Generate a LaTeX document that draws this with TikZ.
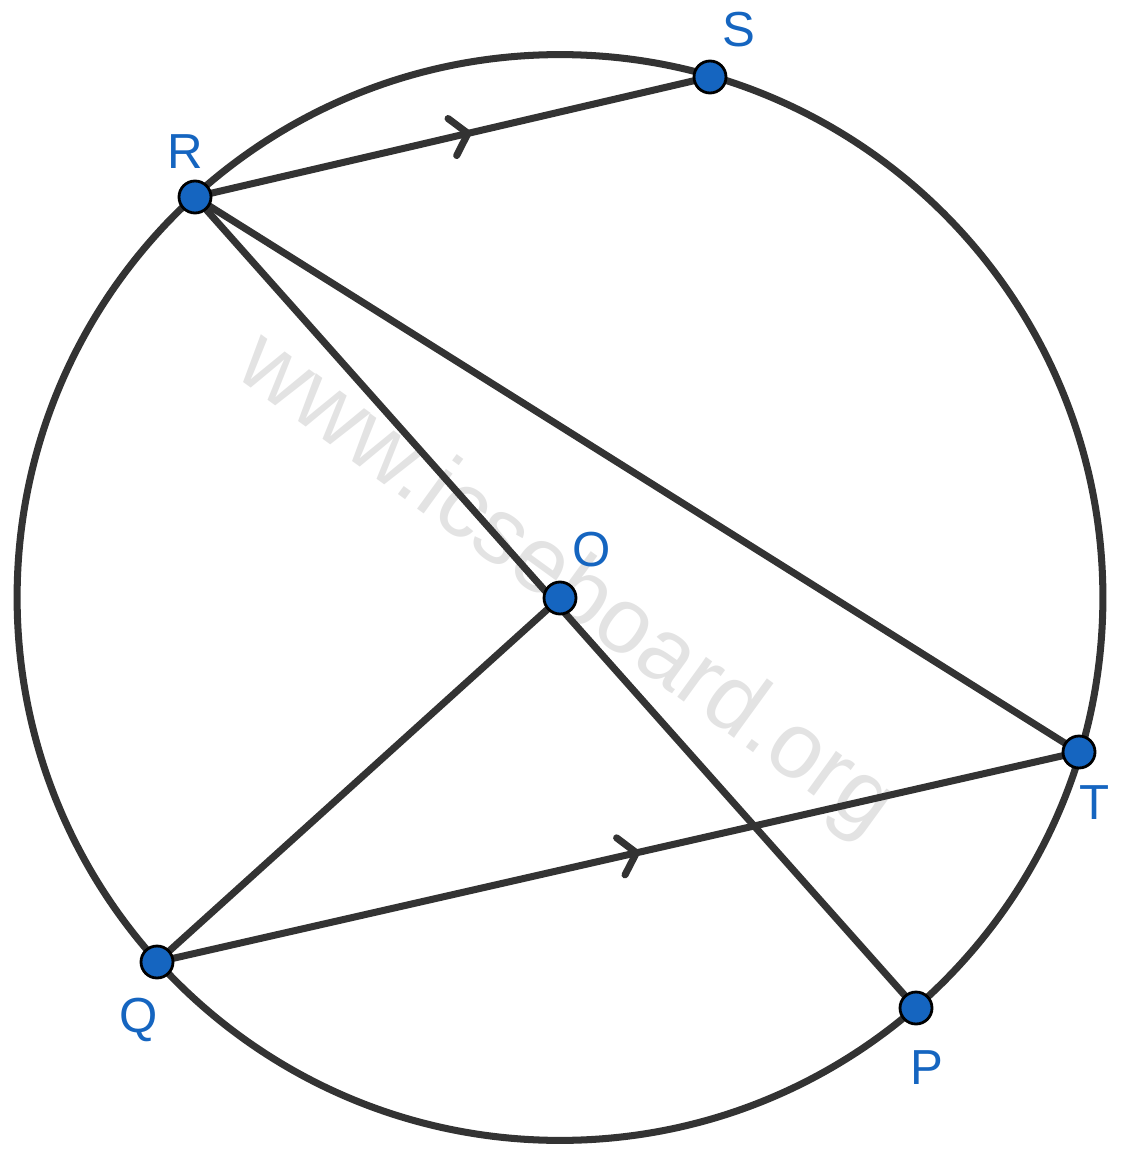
\documentclass[tikz,border=0pt]{standalone}
\usepackage{fontspec}
\setmainfont{Liberation Sans}
\usetikzlibrary{decorations.markings}
\definecolor{ln}{HTML}{333333}
\definecolor{pt}{HTML}{1565C0}
\definecolor{wm}{HTML}{E3E3E3}
\begin{document}
\begin{tikzpicture}[x=0.02cm,y=-0.02cm,
  seg/.style={draw=ln,line width=4pt},
  dot/.style={circle,draw=black,fill=pt,line width=1.6pt,minimum size=0.64cm,inner sep=0pt},
  lbl/.style={text=pt,font=\fontsize{28}{28}\selectfont},
  chev/.style={postaction={decorate},decoration={markings,mark=at position #1 with {\draw[ln,line width=4pt,line cap=round,line join=miter] (-0.32cm,0.38cm) -- (0,0) -- (-0.32cm,-0.38cm);}}}
]
\useasboundingbox (0,0) rectangle (1132,1165);
% watermark
\node[text=wm,rotate=-36,font=\fontsize{53}{53}\selectfont] (wmk) at (565,586) {www.icseboard.org};
% coordinates
\coordinate (Oc) at (560,597.5);
\coordinate (R) at (195,197);
\coordinate (S) at (710,77);
\coordinate (T) at (1079,752);
\coordinate (Q) at (157,962);
\coordinate (P) at (916,1008);
\coordinate (O) at (560,598);
% circle
\draw[ln,line width=4pt] (Oc) circle[radius=10.86cm];
% segments
\draw[seg,chev=0.53] (R) -- (S);
\draw[seg] (R) -- (T);
\draw[seg] (R) -- (P);
\draw[seg] (Q) -- (O);
\draw[seg,chev=0.52] (Q) -- (T);
% points
\foreach \p in {R,S,T,Q,P,O} \node[dot] (d\p) at (\p) {};
% labels
\node[lbl] (lR) at (185,152) {R};
\node[lbl] (lS) at (739,30) {S};
\node[lbl] (lO) at (592,550) {O};
\node[lbl] (lT) at (1095,803) {T};
\node[lbl] (lQ) at (139,1020) {Q};
\node[lbl] (lP) at (927,1068) {P};
\end{tikzpicture}
\end{document}
